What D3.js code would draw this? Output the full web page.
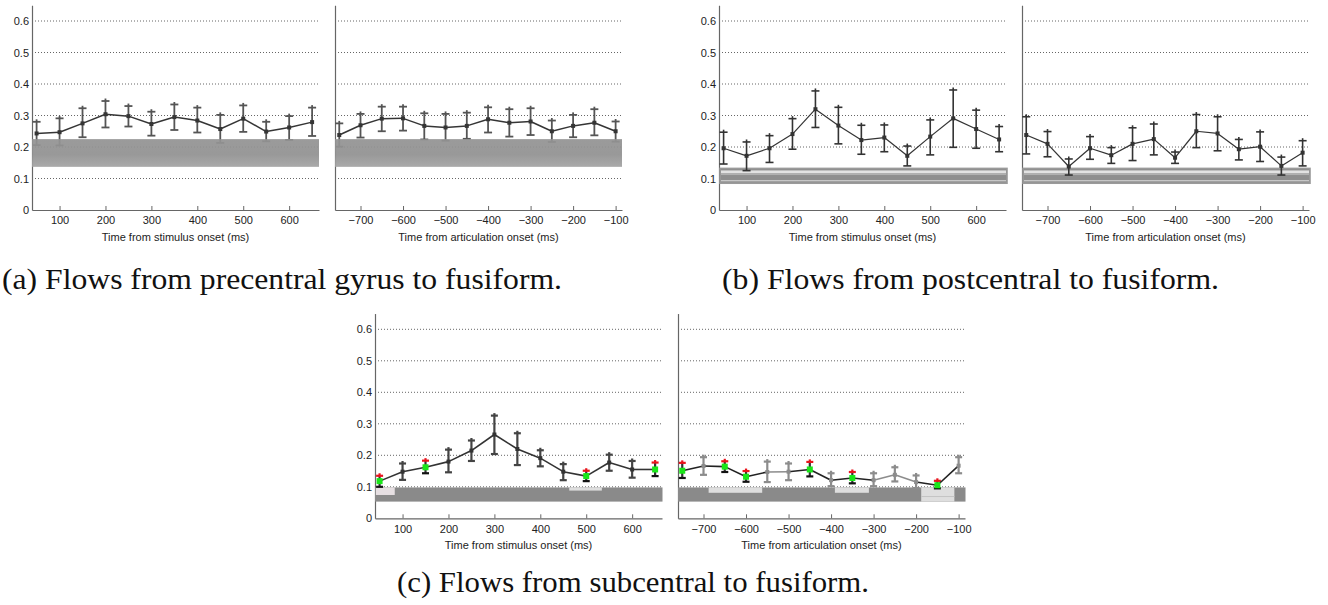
<!DOCTYPE html>
<html><head><meta charset="utf-8">
<script src="https://cdn.jsdelivr.net/npm/d3@7"></script>
<style>body{margin:0;background:#fff}svg{display:block}</style>
</head><body><svg id="chart" width="1328" height="605"></svg>
<script>
// ---------- data ----------
const tStim = [50,100,150,200,250,300,350,400,450,500,550,600,650];
const tArt = [-750,-700,-650,-600,-550,-500,-450,-400,-350,-300,-250,-200,-150,-100];
const stimTicks = [100,200,300,400,500,600];
const artTicks = [-700,-600,-500,-400,-300,-200,-100];
const yTicks = [0,0.1,0.2,0.3,0.4,0.5,0.6];
const yTickLabels = ["0","0.1","0.2","0.3","0.4","0.5","0.6"];
const stimTitle = "Time from stimulus onset (ms)";
const artTitle = "Time from articulation onset (ms)";

// (a) precentral gyrus -> fusiform
const aStimMean  = [0.243,0.247,0.275,0.304,0.298,0.273,0.295,0.284,0.257,0.290,0.249,0.262,0.279];
const aStimUpper = [0.280,0.291,0.323,0.346,0.330,0.312,0.335,0.325,0.302,0.332,0.280,0.298,0.325];
const aStimLower = [0.206,0.205,0.231,0.262,0.265,0.236,0.254,0.246,0.213,0.248,0.218,0.222,0.235];
const aArtMean  = [0.238,0.269,0.290,0.291,0.267,0.262,0.267,0.288,0.277,0.281,0.250,0.267,0.277,0.250];
const aArtUpper = [0.275,0.305,0.328,0.328,0.307,0.305,0.309,0.326,0.320,0.323,0.284,0.302,0.320,0.281];
const aArtLower = [0.201,0.230,0.250,0.252,0.224,0.220,0.226,0.246,0.233,0.238,0.216,0.231,0.237,0.217];
const aBand = [0.137,0.225];

// (b) postcentral -> fusiform
const bStimMean  = [0.196,0.172,0.196,0.241,0.320,0.268,0.222,0.230,0.172,0.233,0.291,0.257,0.224];
const bStimUpper = [0.247,0.216,0.236,0.290,0.378,0.326,0.269,0.270,0.203,0.286,0.381,0.317,0.265];
const bStimLower = [0.146,0.125,0.151,0.193,0.262,0.210,0.177,0.185,0.140,0.175,0.199,0.196,0.185];
const bArtMean  = [0.238,0.210,0.138,0.196,0.174,0.210,0.225,0.166,0.250,0.243,0.193,0.201,0.140,0.182];
const bArtUpper = [0.296,0.249,0.162,0.233,0.198,0.261,0.273,0.184,0.303,0.296,0.224,0.248,0.168,0.220];
const bArtLower = [0.178,0.169,0.111,0.161,0.148,0.157,0.175,0.148,0.198,0.188,0.159,0.154,0.111,0.140];
const bBand = [0.085,0.132];

// (c) subcentral -> fusiform
const cStimMean  = [0.118,0.148,0.162,0.180,0.215,0.266,0.220,0.191,0.148,0.134,0.177,0.155,0.155];
const cStimUpper = [0.135,0.174,0.183,0.218,0.247,0.326,0.270,0.216,0.172,0.151,0.202,0.182,0.177];
const cStimLower = [0.100,0.122,0.143,0.146,0.182,0.204,0.169,0.165,0.121,0.118,0.151,0.129,0.134];
const cStimStatus = ["sig","n","sig","n","n","n","n","n","n","sig","n","n","sig"];
const cArtMean  = [0.151,0.166,0.164,0.132,0.147,0.148,0.155,0.121,0.128,0.121,0.138,0.115,0.105,0.167];
const cArtUpper = [0.176,0.194,0.181,0.150,0.180,0.174,0.179,0.143,0.147,0.143,0.162,0.136,0.119,0.194];
const cArtLower = [0.128,0.138,0.147,0.116,0.115,0.121,0.133,0.102,0.111,0.102,0.117,0.096,0.095,0.143];
const cArtStatus = ["sig","gray","sig","sig","gray","gray","sig","gray","sig","gray","gray","gray","sig","gray"];
const cBand = [0.053,0.098];
const cStimPatchFrom = [42,463];
const cStimPatchTo   = [83,534];
const cStimPatchLow  = [0.074,0.088];
const cArtPatchFrom = [-688,-391,-188];
const cArtPatchTo   = [-562,-311,-110];
const cArtPatchLow  = [0.081,0.081,0.053];

const captions = ["(a) Flows from precentral gyrus to fusiform.",
                  "(b) Flows from postcentral to fusiform.",
                  "(c) Flows from subcentral to fusiform."];

// ---------- drawing ----------
const svg = d3.select("#chart");
const defs = svg.append("defs");
const gA = defs.append("linearGradient").attr("id","bandA").attr("x1",0).attr("x2",0).attr("y1",0).attr("y2",1);
gA.append("stop").attr("offset","0%").attr("stop-color","#939393");
gA.append("stop").attr("offset","55%").attr("stop-color","#919191");
gA.append("stop").attr("offset","100%").attr("stop-color","#a3a3a3");

const W = 287, PX = 315; // px per unit value
const SANS = "'Liberation Sans', Arial, Helvetica, sans-serif";

function panel(cfg) {
  const x = d3.scaleLinear().domain(cfg.domain).range([cfg.left, cfg.left + W]);
  const y = d3.scaleLinear().domain([0, 0.65]).range([cfg.base, cfg.base - 0.65 * PX]);
  const g = svg.append("g");
  // gridlines
  g.selectAll("line.grid").data(yTicks.filter(v => v > 0)).join("line")
    .attr("x1", x.range()[0]).attr("x2", x.range()[1])
    .attr("y1", d => y(d)).attr("y2", d => y(d))
    .attr("stroke", "#555").attr("stroke-width", 0.9).attr("stroke-dasharray", "1,2");
  // y axis
  const ya = d3.axisLeft(y).tickValues(yTicks).tickSize(0).tickSizeOuter(0).tickPadding(3)
    .tickFormat((d, i) => cfg.yLabels ? yTickLabels[i] : "");
  const yg = g.append("g").attr("transform", `translate(${cfg.left},0)`).call(ya);
  yg.select(".domain").attr("stroke", "#666").attr("stroke-width", 1.2);
  yg.selectAll("text").attr("font-family", SANS).attr("font-size", 11).attr("fill", "#222");
  // x axis
  const xa = d3.axisBottom(x).tickValues(cfg.ticks).tickSizeInner(-4).tickSizeOuter(0).tickPadding(6.5);
  const xg = g.append("g").attr("transform", `translate(0,${cfg.base})`).call(xa);
  xg.select(".domain").attr("stroke", "#666").attr("stroke-width", 1.2);
  xg.selectAll(".tick line").attr("stroke", "#666");
  xg.selectAll("text").attr("font-family", SANS).attr("font-size", 11).attr("fill", "#222");
  g.append("text").attr("x", cfg.left + W / 2).attr("y", cfg.base + 31)
    .attr("text-anchor", "middle").attr("font-family", SANS).attr("font-size", 11).attr("fill", "#222")
    .text(cfg.title);

  if (cfg.bandUnder) cfg.bandUnder(g, x, y);

  const st = cfg.status || cfg.t.map(() => "n");
  const colFor = s => s === "gray" ? "#8c8c8c" : cfg.barColor;
  const cap = cfg.cap;
  // error bars
  const bars = g.append("g");
  cfg.t.forEach((t, i) => {
    const cx = x(t), s = st[i], c = colFor(s);
    bars.append("line").attr("x1", cx).attr("x2", cx).attr("y1", y(cfg.up[i])).attr("y2", y(cfg.lo[i]))
      .attr("stroke", s === "sig" ? "#333" : c).attr("stroke-width", cfg.barW);
    bars.append("line").attr("x1", cx - cap).attr("x2", cx + cap).attr("y1", y(cfg.lo[i])).attr("y2", y(cfg.lo[i]))
      .attr("stroke", s === "sig" ? "#111" : c).attr("stroke-width", cfg.barW);
    bars.append("line").attr("x1", cx - cap).attr("x2", cx + cap).attr("y1", y(cfg.up[i])).attr("y2", y(cfg.up[i]))
      .attr("stroke", s === "sig" ? "#e8141c" : c).attr("stroke-width", cfg.barW);
    bars.append("line").attr("x1", cx).attr("x2", cx).attr("y1", y(cfg.up[i]) - 2.5).attr("y2", y(cfg.up[i]))
      .attr("stroke", s === "sig" ? "#e8141c" : c).attr("stroke-width", cfg.barW);
  });
  // connecting line segments
  for (let i = 0; i < cfg.t.length - 1; i++) {
    const grayBoth = st[i] === "gray" && st[i + 1] === "gray";
    g.append("line").attr("x1", x(cfg.t[i])).attr("y1", y(cfg.mean[i]))
      .attr("x2", x(cfg.t[i + 1])).attr("y2", y(cfg.mean[i + 1]))
      .attr("stroke", grayBoth ? "#8c8c8c" : cfg.lineColor).attr("stroke-width", cfg.lineW);
  }
  // markers
  cfg.t.forEach((t, i) => {
    const s = st[i];
    const sz = s === "sig" ? 6 : cfg.mk;
    g.append("rect").attr("x", x(t) - sz / 2).attr("y", y(cfg.mean[i]) - sz / 2)
      .attr("width", sz).attr("height", sz)
      .attr("fill", s === "sig" ? "#19e619" : (s === "gray" ? "#8c8c8c" : cfg.lineColor));
  });

  if (cfg.bandOver) cfg.bandOver(g, x, y);
}

function bandA(g, x, y) {
  g.append("rect").attr("x", x.range()[0]).attr("width", W)
    .attr("y", y(aBand[1])).attr("height", y(aBand[0]) - y(aBand[1]))
    .attr("fill", "url(#bandA)").attr("opacity", 0.93);
}
function bandB(g, x, y) {
  const x0 = x.range()[0] + 1, y1 = y(bBand[1]), y0 = y(bBand[0]);
  g.append("rect").attr("x", x0).attr("width", W).attr("y", y1).attr("height", y0 - y1)
    .attr("fill", "#8e8e8e").attr("stroke", "#9a9a9a").attr("stroke-width", 1.6);
  g.append("rect").attr("x", x0 + 1).attr("width", W - 2).attr("y", y1 + 2).attr("height", 2.6)
    .attr("fill", "#e2e2e2");
  g.append("rect").attr("x", x0 + 1).attr("width", W - 2).attr("y", y1 + 4.6).attr("height", 2)
    .attr("fill", "#b0b0b0");
  g.append("line").attr("x1", x0 + 1).attr("x2", x0 + W - 1).attr("y1", y0 - 2.5).attr("y2", y0 - 2.5)
    .attr("stroke", "#dadada").attr("stroke-width", 1.2);
}
function bandC(from, to, low) {
  return function (g, x, y) {
    const y1 = y(cBand[1]), y0 = y(cBand[0]);
    g.append("rect").attr("x", x.range()[0]).attr("width", W + 0.5).attr("y", y1).attr("height", y0 - y1)
      .attr("fill", "#8a8a8a");
    from.forEach((f, i) => {
      g.append("rect").attr("x", x(f)).attr("width", x(to[i]) - x(f))
        .attr("y", y1).attr("height", y(low[i]) - y1)
        .attr("fill", i === 0 && from === cStimPatchFrom ? "#e6dfe2" : "#dedede");
      if (low[i] <= cBand[0] + 0.001) {
        g.append("line").attr("x1", x(f)).attr("x2", x(to[i]))
          .attr("y1", (y1 + y0) / 2 + 2).attr("y2", (y1 + y0) / 2 + 2)
          .attr("stroke", "#c4c4c4").attr("stroke-width", 1);
      }
    });
  };
}

const baseTop = 210, baseBot = 518.3;
panel({left: 32, base: baseTop, domain: [40, 665], ticks: stimTicks, t: tStim, mean: aStimMean, up: aStimUpper, lo: aStimLower,
  yLabels: true, title: stimTitle, barColor: "#555", lineColor: "#353535", barW: 1.8, lineW: 1.5, cap: 4, mk: 4, bandOver: bandA});
panel({left: 335, base: baseTop, domain: [-760, -85], ticks: artTicks, t: tArt, mean: aArtMean, up: aArtUpper, lo: aArtLower,
  yLabels: false, title: artTitle, barColor: "#555", lineColor: "#353535", barW: 1.8, lineW: 1.5, cap: 4, mk: 4, bandOver: bandA});
panel({left: 719, base: baseTop, domain: [40, 665], ticks: stimTicks, t: tStim, mean: bStimMean, up: bStimUpper, lo: bStimLower,
  yLabels: true, title: stimTitle, barColor: "#333", lineColor: "#333", barW: 1.6, lineW: 1.2, cap: 4, mk: 4, bandUnder: bandB});
panel({left: 1022, base: baseTop, domain: [-760, -85], ticks: artTicks, t: tArt, mean: bArtMean, up: bArtUpper, lo: bArtLower,
  yLabels: false, title: artTitle, barColor: "#333", lineColor: "#333", barW: 1.6, lineW: 1.2, cap: 4, mk: 4, bandUnder: bandB});
panel({left: 375, base: baseBot, domain: [40, 665], ticks: stimTicks, t: tStim, mean: cStimMean, up: cStimUpper, lo: cStimLower,
  status: cStimStatus, yLabels: true, title: stimTitle, barColor: "#444", lineColor: "#333", barW: 2.2, lineW: 1.6, cap: 3.5, mk: 4,
  bandUnder: bandC(cStimPatchFrom, cStimPatchTo, cStimPatchLow)});
panel({left: 678, base: baseBot, domain: [-760, -85], ticks: artTicks, t: tArt, mean: cArtMean, up: cArtUpper, lo: cArtLower,
  status: cArtStatus, yLabels: false, title: artTitle, barColor: "#444", lineColor: "#222", barW: 2.2, lineW: 1.6, cap: 3.5, mk: 4,
  bandUnder: bandC(cArtPatchFrom, cArtPatchTo, cArtPatchLow)});

// captions
const SERIF = "'Liberation Serif', 'Times New Roman', serif";
const capPos = [[2, 288.7, 560], [722, 288.7, 497], [397, 592, 472]];
captions.forEach((c, i) => {
  svg.append("text").attr("x", capPos[i][0]).attr("y", capPos[i][1])
    .attr("font-family", SERIF).attr("font-size", 29).attr("fill", "#111")
    .attr("textLength", capPos[i][2]).attr("lengthAdjust", "spacingAndGlyphs")
    .text(c);
});
</script></body></html>
